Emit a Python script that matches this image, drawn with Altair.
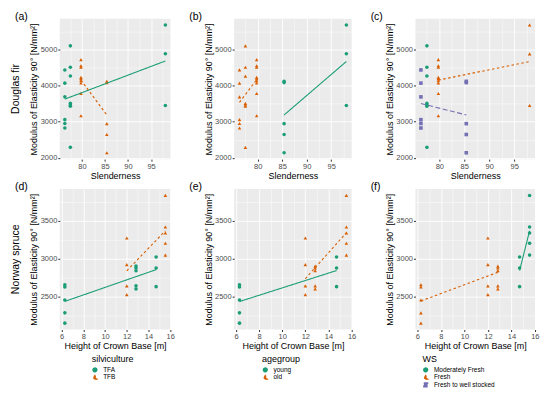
import altair as alt
import pandas as pd

FONT = "Liberation Sans, Arial, Helvetica, sans-serif"
YTITLE = "Modulus of Elasticity 90° [N/mm²]"

# ---------------- Douglas fir (one entry per stand) ----------------
df_slenderness = [76.3, 77.5, 79.8, 85.4, 98.1]
df_silviculture = ["TFA", "TFA", "TFB", "TFB", "TFA"]
df_agegroup = ["old", "old", "old", "young", "young"]
df_ws = ["Fresh to well stocked", "Moderately Fresh", "Fresh",
         "Fresh to well stocked", "Fresh"]
df_moe = [
    [4430, 4065, 3685, 3055, 2950, 2825],
    [5095, 4505, 4260, 3505, 3460, 3425, 2290],
    [4715, 4545, 4505, 4225, 4185, 4135, 4070, 3780, 3165],
    [4115, 4080, 2945, 2645, 2140],
    [5670, 4875, 3445],
]

# ---------------- Norway spruce (one entry per stand) ----------------
ns_hcb = [6.3, 12.0, 12.85, 14.7, 15.55]
ns_silviculture = ["TFA", "TFB", "TFA", "TFA", "TFB"]
ns_agegroup = ["young", "old", "old", "young", "old"]
ns_ws = ["Fresh", "Fresh", "Fresh", "Moderately Fresh", "Moderately Fresh"]
ns_moe = [
    [2660, 2630, 2460, 2290, 2155],
    [3275, 2925, 2645, 2530],
    [2905, 2880, 2845, 2645, 2605],
    [3025, 2880, 2635],
    [3835, 3420, 3340, 3205, 3050],
]

# axis ticks (major / minor)
df_x_ticks = [77.5, 80, 82.5, 85, 87.5, 90, 92.5, 95, 97.5]
df_y_ticks = [2000, 2500, 3000, 3500, 4000, 4500, 5000, 5500]
ns_x_ticks = [6, 7, 8, 9, 10, 11, 12, 13, 14, 15, 16]
ns_y_ticks = [2250, 2500, 2750, 3000, 3250, 3500, 3750]

GREEN, ORANGE, PURPLE = "#1B9E77", "#D95F02", "#7570B3"
groups = {
    "silviculture": (["TFA", "TFB"], [GREEN, ORANGE],
                     ["circle", "triangle-up"], [[1, 0], [2.5, 2.5]]),
    "agegroup": (["young", "old"], [GREEN, ORANGE],
                 ["circle", "triangle-up"], [[1, 0], [2.5, 2.5]]),
    "WS": (["Moderately Fresh", "Fresh", "Fresh to well stocked"],
           [GREEN, ORANGE, PURPLE],
           ["circle", "triangle-up", "square"], [[1, 0], [2.5, 2.5], [5, 2.5]]),
}


def build(xname, xs, silv, age, ws, moe):
    rows = []
    for x, s, a, w, vals in zip(xs, silv, age, ws, moe):
        for v in vals:
            rows.append({xname: x, "MOE": v, "silviculture": s,
                         "agegroup": a, "WS": w})
    return pd.DataFrame(rows)


df_data = build("Slenderness", df_slenderness, df_silviculture,
                df_agegroup, df_ws, df_moe)
ns_data = build("HCB", ns_hcb, ns_silviculture, ns_agegroup, ns_ws, ns_moe)


def expand(vals):
    lo, hi = min(vals), max(vals)
    d = (hi - lo) * 0.05
    return [lo - d, hi + d]


def axis(title, values, test):
    return alt.Axis(
        title=title, values=values, format="d",
        labelExpr=f"({test}) ? datum.label : ''",
        gridWidth={"condition": {"test": test, "value": 0.9}, "value": 0.45},
        tickOpacity={"condition": {"test": test, "value": 1}, "value": 0},
        labelFlush=False, labelOverlap=False,
    )


def panel(data, xname, xtitle, xvals, xtest, yvals, ytest, grp, letter,
          letter_dx, W, H, row_label=None, legend_x=None):
    dom, cols, shapes, dashes = groups[grp]
    X = alt.X(f"{xname}:Q",
              scale=alt.Scale(domain=expand(data[xname].tolist()), nice=False, zero=False),
              axis=axis(xtitle, xvals, xtest))
    Y = alt.Y("MOE:Q",
              scale=alt.Scale(domain=expand(data["MOE"].tolist()), nice=False, zero=False),
              axis=axis(YTITLE, yvals, ytest))
    if legend_x is not None:
        leg = alt.Legend(orient="none", legendX=legend_x, legendY=H + 26,
                         direction="vertical", title=grp)
        color = alt.Color(f"{grp}:N", scale=alt.Scale(domain=dom, range=cols), legend=leg)
        shape = alt.Shape(f"{grp}:N", scale=alt.Scale(domain=dom, range=shapes), legend=leg)
    else:
        color = alt.Color(f"{grp}:N", scale=alt.Scale(domain=dom, range=cols), legend=None)
        shape = alt.Shape(f"{grp}:N", scale=alt.Scale(domain=dom, range=shapes), legend=None)

    points = alt.Chart(data).mark_point(filled=True, size=13, opacity=1).encode(
        x=X, y=Y, color=color, shape=shape)

    valid = [g for g in dom if data.loc[data[grp] == g, xname].nunique() > 1]
    lines = alt.Chart(data).transform_filter(
        alt.FieldOneOfPredicate(field=grp, oneOf=valid)
    ).transform_regression(xname, "MOE", groupby=[grp]).mark_line(
        strokeWidth=1.1).encode(
        x=X, y=Y,
        color=alt.Color(f"{grp}:N", scale=alt.Scale(domain=dom, range=cols), legend=None),
        strokeDash=alt.StrokeDash(f"{grp}:N", scale=alt.Scale(domain=dom, range=dashes),
                                  legend=None),
    )

    layers = [points, lines]
    layers.append(
        alt.Chart(pd.DataFrame({"t": [letter]})).mark_text(
            align="left", baseline="top", fontSize=10.5, color="black", font=FONT
        ).encode(x=alt.value(letter_dx), y=alt.value(-7), text="t:N"))
    if row_label:
        layers.append(
            alt.Chart(pd.DataFrame({"t": [row_label]})).mark_text(
                align="center", baseline="middle", angle=270, fontSize=10.5,
                color="black", font=FONT
            ).encode(x=alt.value(-44), y=alt.value(H / 2), text="t:N"))
    return alt.layer(*layers).properties(width=W, height=H)


H = 141
W1, W2, W3 = 111, 118, 120
xt1 = "datum.value % 5 === 0"
yt1 = "datum.value % 1000 === 0"
xt2 = "datum.value % 2 === 0"
yt2 = "datum.value % 500 === 0"

pa = panel(df_data, "Slenderness", "Slenderness", df_x_ticks, xt1, df_y_ticks, yt1,
           "silviculture", "(a)", -45, W1, H, row_label="Douglas fir")
pb = panel(df_data, "Slenderness", "Slenderness", df_x_ticks, xt1, df_y_ticks, yt1,
           "agegroup", "(b)", -45, W2, H)
pc = panel(df_data, "Slenderness", "Slenderness", df_x_ticks, xt1, df_y_ticks, yt1,
           "WS", "(c)", -45, W3, H)
pd_ = panel(ns_data, "HCB", "Height of Crown Base [m]", ns_x_ticks, xt2, ns_y_ticks, yt2,
            "silviculture", "(d)", -45, W1, H, row_label="Norway spruce", legend_x=32)
pe = panel(ns_data, "HCB", "Height of Crown Base [m]", ns_x_ticks, xt2, ns_y_ticks, yt2,
           "agegroup", "(e)", -45, W2, H, legend_x=28)
pf = panel(ns_data, "HCB", "Height of Crown Base [m]", ns_x_ticks, xt2, ns_y_ticks, yt2,
           "WS", "(f)", -45, W3, H, legend_x=7)

chart = alt.concat(
    pa, pb, pc, pd_, pe, pf, columns=3,
    spacing={"row": 2, "column": 14}, align="each", bounds="full",
).resolve_scale(
    x="independent", y="independent", color="independent",
    shape="independent", strokeDash="independent",
).configure(
    font=FONT, padding={"top": 3, "left": 3, "right": 2, "bottom": 2},
    background="white",
).configure_view(
    fill="#EBEBEB", stroke=None,
).configure_axis(
    domain=False, gridColor="#FFFFFF", tickColor="#333333", tickSize=2,
    labelPadding=1, labelColor="#4D4D4D", labelFontSize=7.5, labelFont=FONT,
    titleFont=FONT, titleFontSize=9, titleFontWeight="normal", titleColor="black",
    titlePadding=1.5,
).configure_legend(
    titleFontSize=9, titleFontWeight="normal", titleFont=FONT, titleColor="black",
    labelFont=FONT, labelFontSize=6.5, labelColor="black", symbolSize=14,
    rowPadding=0.5, titlePadding=2, labelOffset=5, padding=0, clipHeight=7,
)

chart.save("out.html", embed_options={"renderer": "svg", "actions": False})
